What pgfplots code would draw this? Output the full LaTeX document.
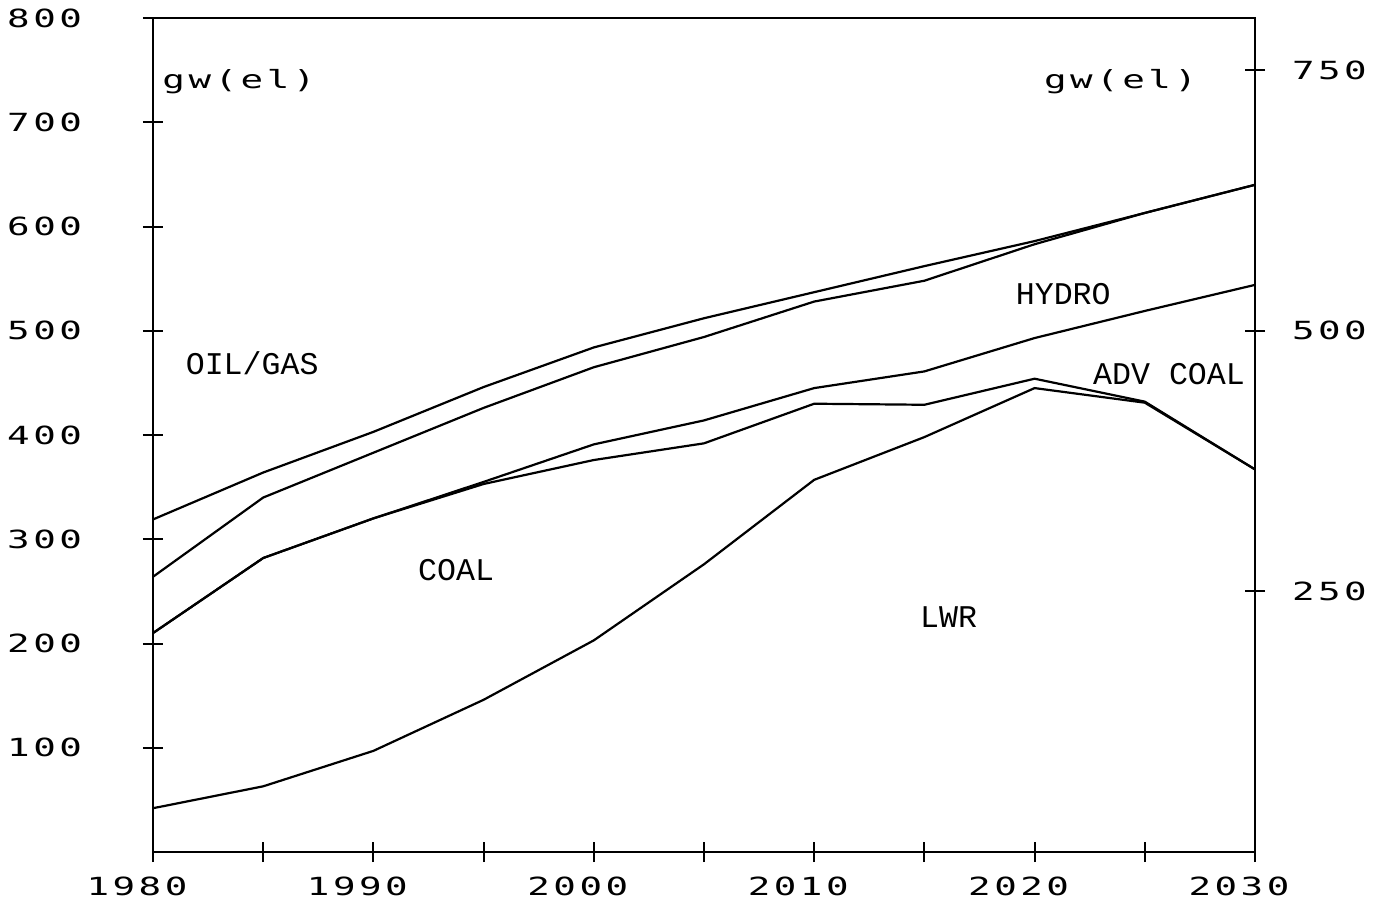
\documentclass[border=0pt]{standalone}
\usepackage{pgfplots}
\pgfplotsset{compat=1.18}
\usepackage{fontspec}
\newfontfamily\plotfont[FakeStretch=1.5,LetterSpace=14]{DejaVu Sans Mono}
\newfontfamily\labfont{Liberation Mono}
\newcommand{\tickfont}{\plotfont\fontsize{12.5bp}{14bp}\selectfont}
\newcommand{\catfont}{\labfont\fontsize{15.8bp}{18bp}\selectfont}
\tikzset{curve/.style={black, line width=1.1bp, mark=none}}
\begin{document}
\begin{tikzpicture}
\useasboundingbox (-76.5bp,-28bp) rectangle (617bp,426bp);
\begin{axis}[
  at={(0,0)}, anchor=south west,
  scale only axis, width=551bp, height=417bp,
  xmin=1980, xmax=2030, ymin=0, ymax=800,
  axis line style={line width=1bp},
  tick style={line width=1bp, black},
  tick align=center, major tick length=10bp,
  xtick={1980,1985,...,2030},
  xticklabels={1980,,1990,,2000,,2010,,2020,,2030},
  ytick={100,200,...,800},
  ytick pos=left, xtick pos=bottom,
  ticklabel style={font=\tickfont},
  /pgf/number format/assume math mode=true,
  /pgf/number format/1000 sep={},
  yticklabel style={xshift=-27bp},
  xticklabel style={yshift=-4bp, xshift=-8bp},
]
% top of oil/gas
\addplot[curve] coordinates {(1980,319) (1985,364) (1990,403) (1995,446) (2000,484) (2005,512) (2010,537) (2015,562) (2020,586) (2025,613) (2030,640)};
% top of hydro
\addplot[curve] coordinates {(1980,264) (1985,340) (1990,383) (1995,426) (2000,465) (2005,494) (2010,528) (2015,548) (2020,583) (2025,613) (2030,640)};
% top of adv coal
\addplot[curve] coordinates {(1980,210) (1985,282) (1990,320) (1995,355) (2000,391) (2005,414) (2010,445) (2015,461) (2020,493) (2025,519) (2030,544)};
% top of coal
\addplot[curve] coordinates {(1980,210) (1985,282) (1990,320) (1995,353) (2000,376) (2005,392) (2010,430) (2015,429) (2020,454) (2025,432) (2030,367)};
% top of LWR
\addplot[curve] coordinates {(1980,42) (1985,63) (1990,97) (1995,146) (2000,203) (2005,276) (2010,357) (2015,398) (2020,445) (2025,431) (2030,367)};
\node[font=\tickfont] at (axis cs:1983.9,739) {gw(el)};
\node[font=\tickfont] at (axis cs:2023.9,739) {gw(el)};
\node[font=\catfont] at (axis cs:1984.5,469) {OIL/GAS};
\node[font=\catfont] at (axis cs:2021.3,535) {HYDRO};
\node[font=\catfont] at (axis cs:2026.1,458) {ADV COAL};
\node[font=\catfont] at (axis cs:1993.75,270) {COAL};
\node[font=\catfont] at (axis cs:2016.1,225) {LWR};
\end{axis}
\begin{axis}[
  at={(0,0)}, anchor=south west,
  scale only axis, width=551bp, height=417bp,
  xmin=1980, xmax=2030, ymin=0, ymax=800,
  axis x line=none, axis y line*=right,
  axis line style={line width=1bp, -},
  tick style={line width=1bp, black},
  tick align=center, major tick length=10bp,
  ytick={250,500,750},
  ticklabel style={font=\tickfont},
  /pgf/number format/assume math mode=true,
  yticklabel style={xshift=10bp},
]
\end{axis}
\end{tikzpicture}
\end{document}
